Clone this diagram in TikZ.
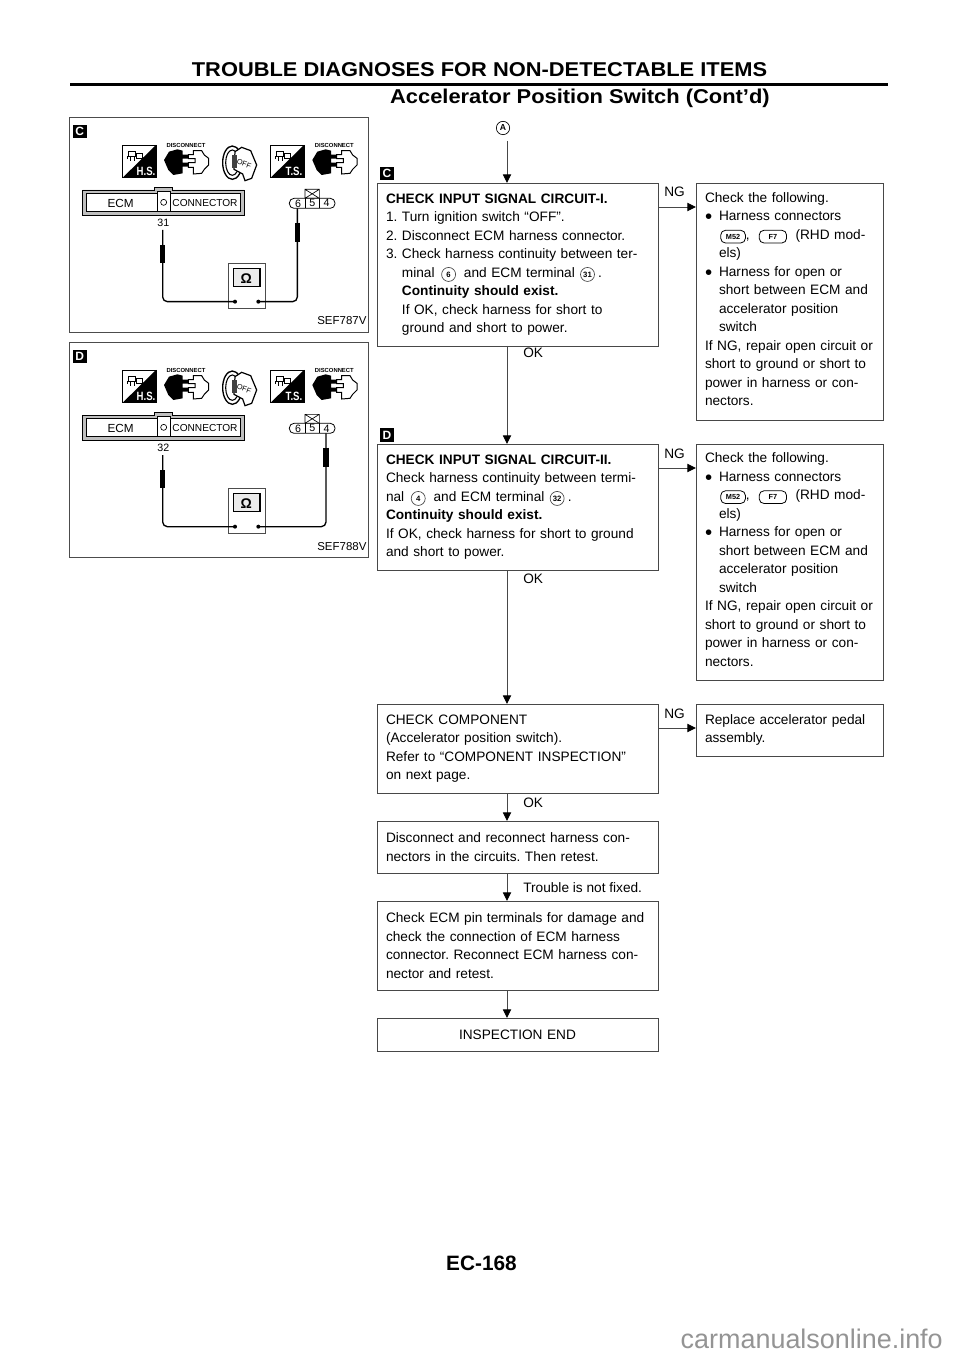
\documentclass[tikz,border=0pt]{standalone}
\usepackage{fontspec}
\usepackage{graphicx}
\setmainfont{Liberation Sans}
\frenchspacing
\usetikzlibrary{arrows.meta}
\definecolor{boxline}{gray}{0.28}
\newcommand{\fs}[1]{\fontsize{#1}{#1}\selectfont}
% circled terminal number
\newcommand{\cn}[1]{\tikz[baseline=(cnn.base)]\node[circle,draw=boxline,line width=0.5pt,inner sep=0pt,minimum size=10.5pt,font=\fontsize{5.8}{5.8}\selectfont\bfseries] (cnn) {#1};}
% harness connector chip
\newcommand{\chip}[2]{\tikz[baseline=(chn.base)]\node[draw=black,line width=0.6pt,rounded corners=3.5pt,inner sep=1.2pt,minimum width=#2,minimum height=9.5pt,font=\fontsize{5.5}{5.5}\selectfont\bfseries] (chn) {#1};}
\tikzset{
  px/.style={x=0.75pt,y=-0.75pt},
  flowa/.style={draw=boxline,line width=0.7pt,anchor=north west,outer sep=0pt,inner xsep=6.75pt,inner ysep=0pt,text width=197.25pt,align=left,fill=white,
     font=\fontsize{10.25}{13.875}\selectfont},
  flowb/.style={flowa,text width=126.75pt},
  conn/.style={draw=boxline,line width=0.7pt,-{Triangle[width=6.2pt,length=6.5pt,color=black]}},
  lab/.style={anchor=base west,inner sep=0pt,font=\fontsize{10.25}{12}\selectfont},
  tag/.style={anchor=center,fill=black,text=white,inner sep=0pt,minimum width=10.5pt,minimum height=10pt,font=\fontsize{9}{9}\selectfont\bfseries},
  panel/.style={draw=black!70,line width=0.7pt},
  zoomgrid/.style={x=0.25pt,y=-0.25pt},
}
% small plug icon, drawn in crop units
\newcommand{\plugicon}{%
  \node[inner sep=0pt,font=\fontsize{4.4}{4.4}\selectfont\bfseries] (dis) at (378,105) {DISCONNECT};
  \fill[black] (312,150) -- (327,125) -- (352,118) -- (368,122) -- (368,134) -- (388,134) -- (388,146) -- (368,146) -- (368,158) -- (388,158) -- (388,170) -- (368,170) -- (368,190) -- (340,195) -- (325,180) -- cycle;
  \draw[black,line width=0.75pt,fill=white] (400,122) -- (425,122) -- (433,135) -- (446,145) -- (446,165) -- (433,178) -- (425,190) -- (400,192) -- (400,172) -- (385,172) -- (385,158) -- (405,158) -- (405,146) -- (385,146) -- (385,134) -- (400,134) -- cycle;
}
\newcommand{\diagicon}[1]{%
  \draw[black,line width=0.6pt,fill=white] (0,0) rectangle (100,98);
  \fill[black] (100,0) -- (100,98) -- (0,98) -- cycle;
  \draw[black,line width=0.45pt] (18,18) rectangle (38,34) (42,26) rectangle (60,40) (14,34) -- (14,42) (24,34) -- (24,48) (34,34) -- (34,48);
  \node[inner sep=0pt,text=white,font=\fontsize{9}{9}\selectfont\bfseries] (dlab) at (70,78) {\scalebox{0.8}[1]{#1}};
}
\newcommand{\panelart}[7]{%
 % #1 x shift, #2 y shift, #3 tag, #4 ecm pin, #5 wire x, #6 code, #7 prefix
 \begin{scope}[shift={(#1,#2)},zoomgrid]
  \node[tag] (#7tag) at (59,65) {#3};
  \begin{scope}[shift={(188,105)}]\diagicon{H.S.}\end{scope}
  \plugicon
  % key
  \draw[black,line width=1pt] (517,158) ellipse (29 and 50);
  \draw[black,line width=0.8pt] (517,158) ellipse (20 and 38);
  \draw[black,line width=0.9pt,fill=white] (525,125) -- (545,112) -- (572,122) -- (590,165) -- (575,205) -- (555,212) -- (548,192) -- (522,178) -- cycle;
  \fill[black!75] (517,135) rectangle (532,175);
  \node[inner sep=0pt,rotate=-20,font=\fs{5.5}] (koff) at (552,162) {OFF};
  \begin{scope}[shift={(632,105)}]\diagicon{T.S.}\end{scope}
  \begin{scope}[shift={(445,0)}]\plugicon\end{scope}
  % ECM connector
  \draw[black,line width=0.6pt,fill=black!25] (68,240) -- (282,240) -- (282,232) -- (338,232) -- (338,240) -- (552,240) -- (552,316) -- (68,316) -- cycle;
  \draw[black,line width=0.6pt,fill=white] (78,250) rectangle (540,305);
  \draw[black,line width=0.6pt,fill=white] (292,243) rectangle (330,305);
  \draw[black,line width=0.5pt,fill=white] (311,277) circle (9);
  \node[inner sep=0pt,font=\fs{8.8}] (ecm) at (182,280) {ECM};
  \node[inner sep=0pt,font=\fs{7.6}] (cnr) at (435,280) {CONNECTOR};
  \node[inner sep=0pt,font=\fs{8}] (pin) at (310,338) {#4};
  % harness connector
  \draw[black,line width=0.5pt] (735,238) rectangle (778,265) (735,238) -- (778,265) (778,238) -- (735,265);
  \draw[black,line width=0.6pt,fill=white,rounded corners=3.5pt] (688,265) rectangle (825,295);
  \draw[black,line width=0.6pt] (735,265) -- (735,295) (778,265) -- (778,295);
  \node[inner sep=0pt,font=\fs{8}] (c6) at (714,280) {6};
  \node[inner sep=0pt,font=\fs{8}] (c5) at (757,280) {5};
  \node[inner sep=0pt,font=\fs{8}] (c4) at (800,280) {4};
  % meter
  \draw[black!70,line width=0.7pt,fill=white] (505,460) rectangle (615,595);
  \draw[black,line width=0.8pt,fill=black!8] (520,475) rectangle (600,530);
  \node[inner sep=0pt,font=\fs{10.5}\bfseries] (ohm) at (559,505) {Ω};
  % leads
  \draw[black,line width=1pt,rounded corners=3.5pt] (308,360) -- (308,575) -- (525,575);
  \draw[black,line width=1pt,rounded corners=3.5pt] (#5,295) -- (#5,575) -- (595,575);
  \draw[black,line width=4.2pt] (308,405) -- (308,458);
  \draw[black,line width=4.2pt] (#5,338) -- (#5,395);
  \fill[black] (525,575) circle (6) (595,575) circle (6);
  \node[anchor=base east,inner sep=0pt,font=\fs{8.6}] (code) at (920,645) {#6};
 \end{scope}
}
\begin{document}
\begin{tikzpicture}[px]
\useasboundingbox (0,0) rectangle (960,1358);
\fill[white] (0,0) rectangle (960,1358);
% header
\node[anchor=base,inner sep=0pt,font=\fs{15}\bfseries] (title) at (479.5,76.5) {\scalebox{1.093}[1]{TROUBLE DIAGNOSES FOR NON-DETECTABLE ITEMS}};
\fill[black] (70,82.6) rectangle (888,86);
\node[anchor=base east,inner sep=0pt,font=\fs{15}\bfseries] (sub) at (770,104) {\scalebox{1.095}[1]{Accelerator Position Switch (Cont’d)}};
\node[anchor=base,inner sep=0pt,font=\fs{15.6}\bfseries] (page) at (481.5,1270) {EC-168};
\node[anchor=base east,inner sep=0pt,text=black!42,font=\fs{20.2}] (wm) at (943,1348) {carmanualsonline.info};
% panels
\draw[panel] (69,117) rectangle (368,332);
\draw[panel] (69,342) rectangle (368,557);
\panelart{60}{110}{C}{31}{712}{SEF787V}{pa}
\panelart{60}{335}{D}{32}{798}{SEF788V}{pb}
% flow
\coordinate (t) at (507,141);
\node[inner sep=0pt,circle,draw=black,line width=0.5pt,minimum size=10pt,font=\fs{6.5}\bfseries] (a) at (503,128) {A};
\node[tag] (tc) at (387,173.5) {C};
\node[tag] (td) at (387,435) {D};
\node[flowa,minimum height=122.25pt] (c) at (377,183) {\textbf{CHECK INPUT SIGNAL CIRCUIT-I.}\\
1. Turn ignition switch “OFF”.\\
2. Disconnect ECM harness connector.\\
3. Check harness continuity between ter-\\
\phantom{3.\ }minal\hspace{5pt}\cn{6}\hspace{6pt}and ECM terminal\hspace{4pt}\cn{31}\hspace{2.5pt}.\\
\phantom{3.\ }\textbf{Continuity should exist.}\\
\phantom{3.\ }If OK, check harness for short to\\
\phantom{3.\ }ground and short to power.};
\node[flowa,minimum height=94.5pt] (d) at (377,444) {\textbf{CHECK INPUT SIGNAL CIRCUIT-II.}\\
Check harness continuity between termi-\\
nal\hspace{5pt}\cn{4}\hspace{6pt}and ECM terminal\hspace{4pt}\cn{32}\hspace{2.5pt}.\\
\textbf{Continuity should exist.}\\
If OK, check harness for short to ground\\
and short to power.};
\node[flowa,minimum height=66.75pt] (e) at (377,704) {CHECK COMPONENT\\
(Accelerator position switch).\\
Refer to “COMPONENT INSPECTION”\\
on next page.};
\node[flowa,minimum height=39pt] (f) at (377,821) {Disconnect and reconnect harness con-\\
nectors in the circuits. Then retest.};
\node[flowa,minimum height=66.75pt] (g) at (377,901) {Check ECM pin terminals for damage and\\
check the connection of ECM harness\\
connector. Reconnect ECM harness con-\\
nector and retest.};
\node[flowa,minimum height=24.75pt,align=center] (h) at (377,1018) {INSPECTION END};
\newcommand{\bul}{\makebox[10.5pt][l]{\raisebox{-2.4pt}{\scalebox{1.5}{\textbullet}}}}
\newcommand{\ind}{\hspace*{10.5pt}}
\newcommand{\chipline}{\hspace*{11.5pt}\chip{M52}{18.5pt}, \hspace{3.5pt}\chip{F7}{20.5pt}\hspace{3pt} (RHD mod-}
\node[flowb,minimum height=177.75pt] (r1) at (696,183) {Check the following.\\
\bul Harness connectors\\
\chipline\\
\ind els)\\
\bul Harness for open or\\
\ind short between ECM and\\
\ind accelerator position\\
\ind switch\\
If NG, repair open circuit or\\
short to ground or short to\\
power in harness or con-\\
nectors.\rule[-3.8pt]{0pt}{1pt}};
\node[flowb,minimum height=177pt] (r2) at (696,444) {Check the following.\\
\bul Harness connectors\\
\chipline\\
\ind els)\\
\bul Harness for open or\\
\ind short between ECM and\\
\ind accelerator position\\
\ind switch\\
If NG, repair open circuit or\\
short to ground or short to\\
power in harness or con-\\
nectors.\rule[-3.8pt]{0pt}{1pt}};
\node[flowb,minimum height=39pt] (r3) at (696,704) {Replace accelerator pedal\\
assembly.};
% connectors
\draw[conn] (t) -- (c.north -| t);
\draw[conn] (c.south -| t) -- (d.north -| t);
\draw[conn] (d.south -| t) -- (e.north -| t);
\draw[conn] (e.south -| t) -- (f.north -| t);
\draw[conn] (f.south -| t) -- (g.north -| t);
\draw[conn] (g.south -| t) -- (h.north -| t);
\draw[conn] ([yshift=-18pt]c.north east) -- ([yshift=-18pt]r1.north west);
\draw[conn] ([yshift=-18pt]d.north east) -- ([yshift=-18pt]r2.north west);
\draw[conn] ([yshift=-18pt]e.north east) -- ([yshift=-18pt]r3.north west);
% labels
\node[lab] (ok1) at (523,358) {OK};
\node[lab] (ok2) at (523,583) {OK};
\node[lab] (ok3) at (523,807) {OK};
\node[lab] (tr) at (523,892) {Trouble is not fixed.};
\node[lab] (ng1) at (664,197) {NG};
\node[lab] (ng2) at (664,458) {NG};
\node[lab] (ng3) at (664,718) {NG};
\end{tikzpicture}
\end{document}
